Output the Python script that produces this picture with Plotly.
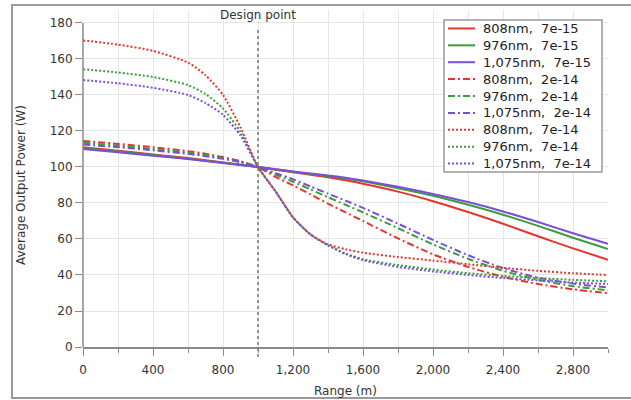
import plotly.graph_objects as go

# Range along the beam path (m)
range_m = [0, 200, 400, 600, 700, 800, 900, 1000, 1100, 1200, 1300, 1400,
           1500, 1600, 1800, 2000, 2200, 2400, 2600, 2800, 3000]

# Average output power (W), turbulence strength 7e-15
p808_7e15 = [111, 109, 107, 105, 103.8, 102.5, 101.3, 100, 98.5, 97, 95.7, 94.3,
             92.6, 90.7, 86.3, 81, 75, 68.5, 61.5, 54.8, 48.5]
p976_7e15 = [110.5, 108.6, 106.6, 104.6, 103.5, 102.3, 101.2, 100, 98.7, 97.3, 96.1, 95,
             93.6, 92, 88.2, 84, 79, 73.5, 67.3, 60.7, 54.4]
p1075_7e15 = [110, 108.2, 106.3, 104.4, 103.3, 102.2, 101.1, 100, 98.8, 97.5, 96.4, 95.3,
              94, 92.5, 89, 85, 80.5, 75.3, 69.4, 63.2, 57.3]

# Turbulence strength 2e-14
p808_2e14 = [114.5, 112.8, 111, 108.8, 107.3, 105.5, 103.2, 100, 94.5, 89.8, 84.8, 79.6,
             74.8, 70, 60.3, 51.5, 44.5, 39, 35, 32, 30]
p976_2e14 = [113.5, 111.8, 110, 108, 106.6, 105, 103, 100, 95.8, 91.8, 87.5, 83.2,
             79, 74.8, 66, 57, 49, 42.3, 37.3, 33.8, 31.5]
p1075_2e14 = [112.5, 111, 109.3, 107.3, 106, 104.5, 102.6, 100, 96.6, 93.2, 89.2, 85.2,
              81.3, 77.3, 68.5, 59.5, 51, 43.8, 38.5, 35.2, 33]

# Turbulence strength 7e-14
p808_7e14 = [170.3, 168, 164.5, 158, 151, 140, 122, 100, 86.5, 72, 62.5, 57,
             54.3, 52.4, 50, 48, 46, 44, 42.3, 41, 40]
p976_7e14 = [154.3, 152.5, 150, 145.5, 140.5, 132.5, 119.5, 100, 86.5, 72, 62.5, 56.5,
             52, 48.8, 45.5, 43, 41, 39.5, 38.3, 37.3, 36.5]
p1075_7e14 = [148.3, 146.5, 144, 140, 135.5, 129, 117.5, 100, 86.5, 72, 62.5, 56.5,
              51.6, 48.2, 44.5, 42, 40, 38.3, 37, 35.8, 35]

wavelengths = ["808nm", "976nm", "1,075nm"]
strengths = ["7e-15", "2e-14", "7e-14"]
y_ticks = [0, 20, 40, 60, 80, 100, 120, 140, 160, 180]
design_range = 1000

colors = ["#E5362E", "#3A9E3A", "#7B4ED8"]
dashes = ["solid", "7px,3px,2px,3px", "2px,2px"]

series = [
    [p808_7e15, p976_7e15, p1075_7e15],
    [p808_2e14, p976_2e14, p1075_2e14],
    [p808_7e14, p976_7e14, p1075_7e14],
]

FONT = "DejaVu Sans"
AXIS_GRAY = "#8a8a8a"
GRID = "#e6e6e6"

# plot area geometry in pixels (used for paper-coordinate placement)
L, R, T, B = 83, 23, 10, 53
W, H = 631, 400
pw, ph = W - L - R, H - T - B
ymax = 187.2


def px_x(px):
    return (px - L) / pw


def px_y(py):
    return (H - B - py) / ph


fig = go.Figure()
for si, strength in enumerate(strengths):
    for wi, wl in enumerate(wavelengths):
        fig.add_trace(go.Scatter(
            x=range_m, y=series[si][wi], mode="lines",
            name=f"{wl},\u00a0\u00a0{strength}", showlegend=False,
            line=dict(color=colors[wi], width=2, dash=dashes[si],
                      shape="spline", smoothing=0.6),
        ))

fig.update_layout(
    width=W, height=H,
    margin=dict(l=L, r=R, t=T, b=B, pad=0),
    paper_bgcolor="white", plot_bgcolor="white",
    font=dict(family=FONT, size=12, color="#333333"),
    xaxis=dict(
        range=[0, 3000], tick0=0, dtick=400, tickformat=",d",
        ticks="outside", ticklen=7, tickwidth=1, tickcolor=AXIS_GRAY,
        showgrid=True, gridcolor=GRID, gridwidth=1,
        showline=True, linecolor=AXIS_GRAY, linewidth=1.5,
        zeroline=False, ticklabelstandoff=4,
        tickfont=dict(family=FONT, size=12, color="#333333"),
        minor=dict(dtick=200, tick0=0, ticks="outside", ticklen=4,
                   tickcolor=AXIS_GRAY, showgrid=True, gridcolor=GRID),
    ),
    yaxis=dict(
        range=[0, ymax], tickmode="array", tickvals=y_ticks,
        ticks="outside", ticklen=7, tickwidth=1, tickcolor=AXIS_GRAY,
        showgrid=True, gridcolor=GRID, gridwidth=1,
        showline=False, zeroline=False,
        tickfont=dict(family=FONT, size=12, color="#333333"),
    ),
)

# y-axis line drawn only over the labelled span
fig.add_shape(type="line", xref="paper", yref="paper",
              x0=0, x1=0, y0=0, y1=180 / ymax,
              line=dict(color=AXIS_GRAY, width=1.5))

# design point marker
fig.add_shape(type="line", xref="x", yref="paper",
              x0=design_range, x1=design_range, y0=px_y(357), y1=px_y(27),
              line=dict(color="#777777", width=1.5, dash="3px,3px"))
fig.add_annotation(x=design_range, y=px_y(15), xref="x", yref="paper",
                   text="Design point", showarrow=False,
                   xanchor="center", yanchor="middle",
                   font=dict(family=FONT, size=12, color="#333333"))

# axis titles
fig.add_annotation(x=0.5, y=px_y(391), xref="paper", yref="paper",
                   text="Range (m)", showarrow=False,
                   xanchor="center", yanchor="middle",
                   font=dict(family=FONT, size=12, color="#333333"))
fig.add_annotation(x=px_x(21), y=px_y(185), xref="paper", yref="paper",
                   text="Average Output Power (W)", showarrow=False,
                   textangle=-90, xanchor="center", yanchor="middle",
                   font=dict(family=FONT, size=12, color="#333333"))

# legend box with one row per series
leg_left, leg_right, leg_top, leg_bottom = 444, 602, 20, 172
fig.add_shape(type="rect", xref="paper", yref="paper",
              x0=px_x(leg_left), x1=px_x(leg_right),
              y0=px_y(leg_bottom), y1=px_y(leg_top),
              line=dict(color="#999999", width=1.5), fillcolor="white",
              layer="above")
row_h = (leg_bottom - leg_top) / 9
row = 0
for si, strength in enumerate(strengths):
    for wi, wl in enumerate(wavelengths):
        cy = leg_top + row_h * (row + 0.5)
        fig.add_shape(type="line", xref="paper", yref="paper",
                      x0=px_x(448), x1=px_x(475), y0=px_y(cy), y1=px_y(cy),
                      line=dict(color=colors[wi], width=2, dash=dashes[si]),
                      layer="above")
        fig.add_annotation(x=px_x(481), y=px_y(cy), xref="paper", yref="paper",
                           text=f"{wl},\u00a0\u00a0{strength}", showarrow=False,
                           xanchor="left", yanchor="middle",
                           font=dict(family=FONT, size=13, color="#222222"))
        row += 1

# outer frame
fig.add_shape(type="rect", xref="paper", yref="paper",
              x0=px_x(12), x1=px_x(640), y0=px_y(398), y1=px_y(5),
              line=dict(color="#9a9a9a", width=2), fillcolor="rgba(0,0,0,0)",
              layer="above")

fig.write_html("out.html")
